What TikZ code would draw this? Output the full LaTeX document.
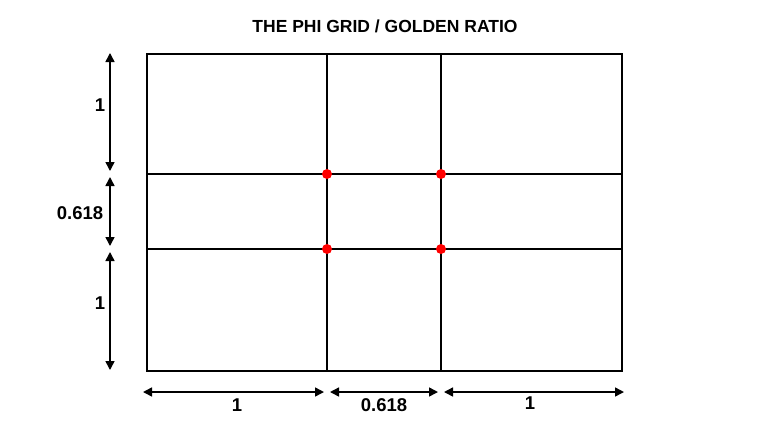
\documentclass[tikz,border=0pt]{standalone}
\usepackage{fontspec}
\setmainfont{Liberation Sans}
\usetikzlibrary{arrows.meta}

\begin{document}
\begin{tikzpicture}[x=1pt,y=-1pt,font=\bfseries,
  gridline/.style={line width=1.9pt},
  measure/.style={line width=1.5pt,{Triangle[length=9pt,width=9pt]}-{Triangle[length=9pt,width=9pt]}},
  phidot/.style={fill=red},
  lbl/.style={font=\fontsize{18.5}{20}\bfseries\selectfont}]
  \useasboundingbox (0,0) rectangle (768,432);
  % grid corners: columns a..d, rows 1..4
  \foreach \c/\x in {a/147,b/327,c/441,d/622}
    \foreach \r/\y in {1/54,2/174,3/249,4/371}
      \coordinate (\c\r) at (\x,\y);
  \node[font=\fontsize{17.5}{19}\bfseries\selectfont] (title) at (385,26) {THE PHI GRID / GOLDEN RATIO};
  % the grid
  \draw[gridline] (a1) rectangle (d4);
  \draw[gridline] (b1) -- (b4);
  \draw[gridline] (c1) -- (c4);
  \draw[gridline] (a2) -- (d2);
  \draw[gridline] (a3) -- (d3);
  \foreach \p in {b2,c2,b3,c3}
    \fill[phidot] (\p) circle (5);
  % left measures
  \coordinate (v1) at (110,53);
  \coordinate (v2) at (110,171);
  \coordinate (v3) at (110,177);
  \coordinate (v4) at (110,246);
  \coordinate (v5) at (110,252);
  \coordinate (v6) at (110,370);
  \draw[measure] (v1) -- (v2);
  \draw[measure] (v3) -- (v4);
  \draw[measure] (v5) -- (v6);
  \node[lbl] (leftA) at (100,105) {1};
  \node[lbl] (leftB) at (80,213) {0.618};
  \node[lbl] (leftC) at (100,303) {1};
  % bottom measures
  \coordinate (h1) at (143,392);
  \coordinate (h2) at (324,392);
  \coordinate (h3) at (330,392);
  \coordinate (h4) at (438,392);
  \coordinate (h5) at (444,392);
  \coordinate (h6) at (624,392);
  \draw[measure] (h1) -- (h2);
  \draw[measure] (h3) -- (h4);
  \draw[measure] (h5) -- (h6);
  \node[lbl] (botA) at (237,405) {1};
  \node[lbl] (botB) at (384,405) {0.618};
  \node[lbl] (botC) at (530,403) {1};
\end{tikzpicture}
\end{document}
